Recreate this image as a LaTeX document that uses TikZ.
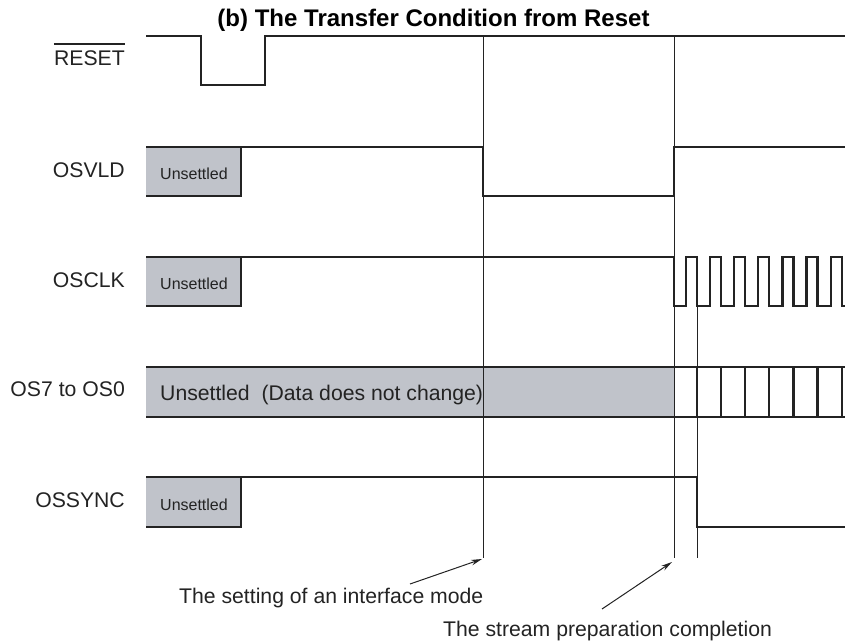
\documentclass[tikz,border=0pt]{standalone}
\usepackage{fontspec}
\setmainfont{Liberation Sans}
\usetikzlibrary{arrows.meta}
\definecolor{unsgray}{RGB}{192,195,202}
\definecolor{ink}{RGB}{35,35,35}
\begin{document}
\begin{tikzpicture}[x=1pt,y=-1pt,
  sig/.style={line width=2.2pt, draw=ink, line join=miter},
  markline/.style={line width=1pt, draw=ink},
  lbl/.style={font=\fontsize{21.2}{25}\selectfont, text=ink, inner sep=0pt},
  unsl/.style={font=\fontsize{16}{19}\selectfont, text=ink, inner sep=0pt, anchor=base west},
  titlefont/.style={font=\fontsize{24}{28}\selectfont\bfseries, text=black, inner sep=0pt},
  annarrow/.style={line width=1pt, draw=ink, -{Stealth[length=11pt,width=5.5pt]}}]
\useasboundingbox (0,0) rectangle (845,642);
% title
\node[titlefont, anchor=base] (title) at (433.5,26.5) {(b) The Transfer Condition from Reset};
% unsettled fills
\fill[unsgray] (146,147) rectangle (241,196);
\fill[unsgray] (146,257) rectangle (241,306);
\fill[unsgray] (146,367) rectangle (674,417);
\fill[unsgray] (146,477) rectangle (241,527);
% marker lines
\coordinate (m1top) at (483,36);  \coordinate (m1bot) at (483,558);
\coordinate (m2top) at (674,36);  \coordinate (m2bot) at (674,558);
\coordinate (m3top) at (697,306); \coordinate (m3bot) at (697,558);
\draw[markline] (m1top) -- (m1bot);
\draw[markline] (m2top) -- (m2bot);
\draw[markline] (m3top) -- (m3bot);
% RESET
\draw[sig] (146,36) -- (201,36) -- (201,85) -- (265,85) -- (265,36) -- (845,36);
% OSVLD
\draw[sig] (146,147) -- (483,147) -- (483,196) -- (674,196) -- (674,147) -- (845,147);
\draw[sig] (146,196) -- (241,196) -- (241,147);
% OSCLK
\draw[sig] (146,257) -- (674,257) -- (674,306)
  foreach \k in {0,...,6} { -- ({686+24.1*\k},306) -- ({686+24.1*\k},257) -- ({697+24.1*\k},257) -- ({697+24.1*\k},306) }
  -- (845,306);
\draw[sig] (146,306) -- (241,306) -- (241,257);
% OS7 to OS0
\draw[sig] (146,367) -- (845,367);
\draw[sig] (146,417) -- (845,417);
\foreach \k in {0,...,6} \draw[sig] ({697+24.1*\k},367) -- ({697+24.1*\k},417);
% OSSYNC
\draw[sig] (146,477) -- (697,477) -- (697,527) -- (845,527);
\draw[sig] (146,527) -- (241,527) -- (241,477);
% labels
\node[lbl, anchor=base east] (lreset) at (125,66) {RESET};
\draw[line width=1.1pt, draw=ink] ([yshift=7pt]lreset.north west) -- ([yshift=7pt]lreset.north east);
\node[lbl, anchor=base east] (losvld) at (125,177) {OSVLD};
\node[lbl, anchor=base east] (losclk) at (125,287) {OSCLK};
\node[lbl, anchor=base east] (los) at (125,396) {OS7 to OS0};
\node[lbl, anchor=base east] (lossync) at (125,507) {OSSYNC};
% unsettled texts
\node[unsl] (u1) at (160,179.5) {Unsettled};
\node[unsl] (u2) at (160,289.5) {Unsettled};
\node[unsl] (u3) at (160,510) {Unsettled};
\node[lbl, anchor=base west] (ubus) at (160,400) {Unsettled\ \ (Data does not change)};
% annotations
\node[lbl, anchor=base west] (a1) at (179,603.5) {The setting of an interface mode};
\node[lbl, anchor=base west] (a2) at (443,636) {The stream preparation completion};
\coordinate (a1s) at (410,584); \coordinate (a1e) at (482,559);
\coordinate (a2s) at (602,609); \coordinate (a2e) at (672,562);
\draw[annarrow] (a1s) -- (a1e);
\draw[annarrow] (a2s) -- (a2e);
\end{tikzpicture}
\end{document}
